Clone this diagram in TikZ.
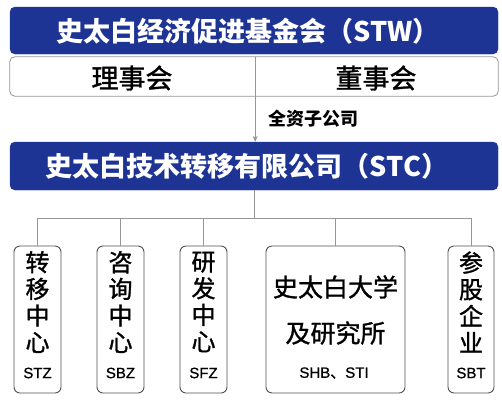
\documentclass[tikz,border=0pt]{standalone}
\usepackage{fontspec}
\setmainfont{Noto Sans CJK SC}
\newfontfamily\medfont{Noto Sans CJK SC}[FakeBold=1.2]
\newfontfamily\codefont{Liberation Sans}[FakeBold=0.8]
\usetikzlibrary{arrows.meta}
\definecolor{navy}{RGB}{30,52,148}
\definecolor{linegray}{RGB}{150,150,150}
\definecolor{boxgray}{RGB}{80,80,80}
\tikzset{
  x=1pt, y=-1pt,
  bluebox/.style={fill=navy, draw=navy, rounded corners=5pt, inner sep=0pt},
  bluetext/.style={text=white, font=\fontsize{27}{30}\selectfont\bfseries, inner sep=0pt},
  boardtext/.style={font=\fontsize{27}{30}\selectfont\medfont, inner sep=0pt},
  unitbox/.style={draw=boxgray, line width=0.9pt, rounded corners=6pt, inner sep=0pt, fill=white},
  unittext/.style={font=\fontsize{24}{26.7}\selectfont\medfont, align=center, inner sep=0pt},
  codetext/.style={font=\fontsize{15}{17}\selectfont\codefont, inner sep=0pt},
  conn/.style={draw=linegray, line width=0.8pt},
}
\begin{document}
\begin{tikzpicture}
\useasboundingbox (0,0) rectangle (502,402);
\fill[white] (0,0) rectangle (502,402);
% top foundation box
\node[bluebox, minimum width=488pt, minimum height=47pt] (stw) at (254,30.5) {};
\node[bluetext] (stwt) at (248,31) {史太白经济促进基金会（STW）};
% board row
\node[minimum width=245pt, minimum height=39pt, inner sep=0pt] (lsh) at (132.5,76.5) {};
\node[minimum width=243pt, minimum height=39pt, inner sep=0pt] (dsh) at (376.5,76.5) {};
\draw[draw=linegray, line width=0.8pt, rounded corners=5pt] (lsh.north west) rectangle (dsh.south east);
\draw[conn] (lsh.north east) -- (lsh.south east);
\node[boardtext] (lsht) at (132,78) {理事会};
\node[boardtext] (dsht) at (376,78) {董事会};
% STC box
\node[bluebox, minimum width=488pt, minimum height=48pt] (stc) at (254,166) {};
\node[bluetext] (stct) at (247,166) {史太白技术转移有限公司（STC）};
% arrow
\draw[conn, -{Stealth[length=6pt,width=5pt]}] (lsh.south east) -- (lsh.south east |- stc.north);
\node[font=\fontsize{18}{20}\selectfont\bfseries, anchor=west, inner sep=0pt] (wos) at (268,119) {全资子公司};
% subsidiaries
\node[unitbox, minimum width=47pt, minimum height=147pt] (b1) at (37.5,319.5) {};
\node[unitbox, minimum width=47pt, minimum height=147pt] (b2) at (120.5,319.5) {};
\node[unitbox, minimum width=47pt, minimum height=147pt] (b3) at (203.5,319.5) {};
\node[unitbox, minimum width=139pt, minimum height=147pt] (b4) at (335.5,319.5) {};
\node[unitbox, minimum width=46pt, minimum height=147pt] (b5) at (471,319.5) {};
% bus
\coordinate (bus) at (254,218);
\draw[conn] (stc.south) -- (bus);
\draw[conn] (b1.north |- bus) -- (b5.north |- bus);
\foreach \b in {b1,b2,b3,b4,b5}{\draw[conn] (\b.north |- bus) -- (\b.north);}
% texts
\node[unittext] (t1) at (37.5,302) {转\\移\\中\\心};
\node[codetext] (c1) at (37.5,373) {STZ};
\node[unittext] (t2) at (120.5,302) {咨\\询\\中\\心};
\node[codetext] (c2) at (120.5,373) {SBZ};
\node[unittext] (t3) at (203.5,302) {研\\发\\中\\心};
\node[codetext] (c3) at (203.5,373) {SFZ};
\node[unittext, font=\fontsize{25}{46}\selectfont\medfont] (t4) at (335.5,310) {史太白大学\\及研究所};
\node[codetext] (c4) at (334,373) {SHB{\medfont 、}STI};
\node[unittext] (t5) at (471,302) {参\\股\\企\\业};
\node[codetext] (c5) at (471,373) {SBT};
\end{tikzpicture}
\end{document}
